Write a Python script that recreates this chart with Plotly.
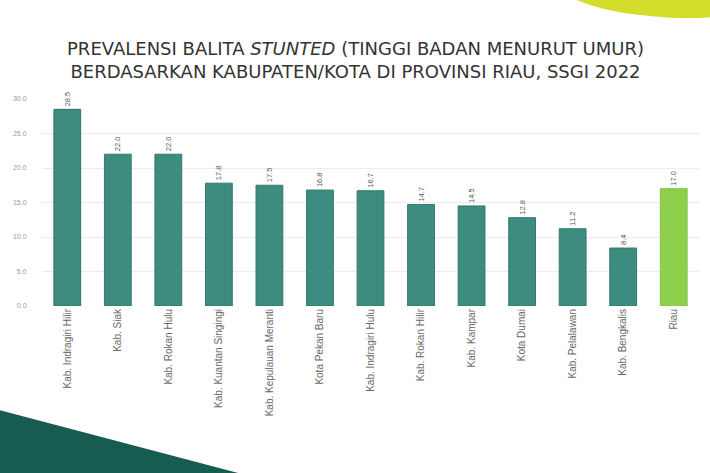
import plotly.graph_objects as go

categories = ["Kab. Indragiri Hilir", "Kab. Siak", "Kab. Rokan Hulu", "Kab. Kuantan Singingi",
              "Kab. Kepulauan Meranti", "Kota Pekan Baru", "Kab. Indragiri Hulu", "Kab. Rokan Hilir",
              "Kab. Kampar", "Kota Dumai", "Kab. Pelalawan", "Kab. Bengkalis", "Riau"]
values = [28.5, 22.0, 22.0, 17.8, 17.5, 16.8, 16.7, 14.7, 14.5, 12.8, 11.2, 8.4, 17.0]
tick_vals = [0, 5, 10, 15, 20, 25, 30]
tick_text = ["0.0", "5.0", "10.0", "15.0", "20.0", "25.0", "30.0"]

TEAL = "#3d8c7f"
GREEN = "#8ecf4c"
colors = [GREEN if c == "Riau" else TEAL for c in categories]
lines = ["#7fc24a" if c == "Riau" else "#2f7a6d" for c in categories]

W, H = 710, 473
# on-screen plot area: x 42..699, y 99..306 (body margin removed below)
L, T = 42, 99
R = W - 699
B = H - 306
PW, PH = W - L - R, H - T - B

def px(x, y):
    return (x - L) / PW, (H - B - y) / PH

fig = go.Figure()
fig.add_trace(go.Bar(
    x=categories, y=values,
    marker=dict(color=colors, line=dict(color=lines, width=1)),
    text=[f"{v:.1f}" for v in values],
    textposition="outside", textangle=-90,
    textfont=dict(size=7.5, color="#555555", family="Liberation Sans, Arial"),
    cliponaxis=False, constraintext="none",
))

tx = [px(-5, 409), px(242, 474), px(-5, 474)]
tri = "M {} {} L {} {} L {} {} Z".format(*[c for p in tx for c in p])
a = px(572, -2); c1 = px(600, 11); b = px(640, 15); c2 = px(680, 20); d = px(712, 17); e = px(712, -2)
ypath = "M {} {} Q {} {} {} {} Q {} {} {} {} L {} {} Z".format(
    a[0], a[1], c1[0], c1[1], b[0], b[1], c2[0], c2[1], d[0], d[1], e[0], e[1])

title_center_x = px(355.5, 0)[0]

fig.update_layout(
    width=W, height=H,
    margin=dict(l=L, r=R, t=T, b=B, autoexpand=False),
    paper_bgcolor="white", plot_bgcolor="white",
    showlegend=False,
    bargap=0.47,
    title=dict(
        text="PREVALENSI BALITA <i>STUNTED</i> (TINGGI BADAN MENURUT UMUR)<br>BERDASARKAN KABUPATEN/KOTA DI PROVINSI RIAU, SSGI 2022",
        x=title_center_x, xref="paper", xanchor="center", y=1 - 54.5 / H, yanchor="middle",
        font=dict(size=18, color="#333333", family="DejaVu Sans"),
    ),
    xaxis=dict(tickangle=-90, tickfont=dict(size=10, color="#666666", family="Liberation Sans, Arial"),
               showgrid=False, showline=False, ticks="", automargin=False),
    yaxis=dict(range=[0, 30], tickvals=tick_vals, ticktext=tick_text,
               tickfont=dict(size=7, color="#999999", family="Liberation Sans, Arial"),
               ticks="outside", ticklen=13, tickcolor="rgba(0,0,0,0)", automargin=False,
               showgrid=True, gridcolor="#ececec", gridwidth=1, zeroline=False, showline=False),
    shapes=[
        dict(type="path", path=tri, xref="paper", yref="paper", fillcolor="#175b51", line=dict(width=0), layer="above"),
        dict(type="path", path=ypath, xref="paper", yref="paper", fillcolor="#d3dd2a", line=dict(width=0), layer="above"),
    ],
)

fig.write_html("out.html", config={"displayModeBar": False},
               post_script="document.body.style.margin='0px';")
